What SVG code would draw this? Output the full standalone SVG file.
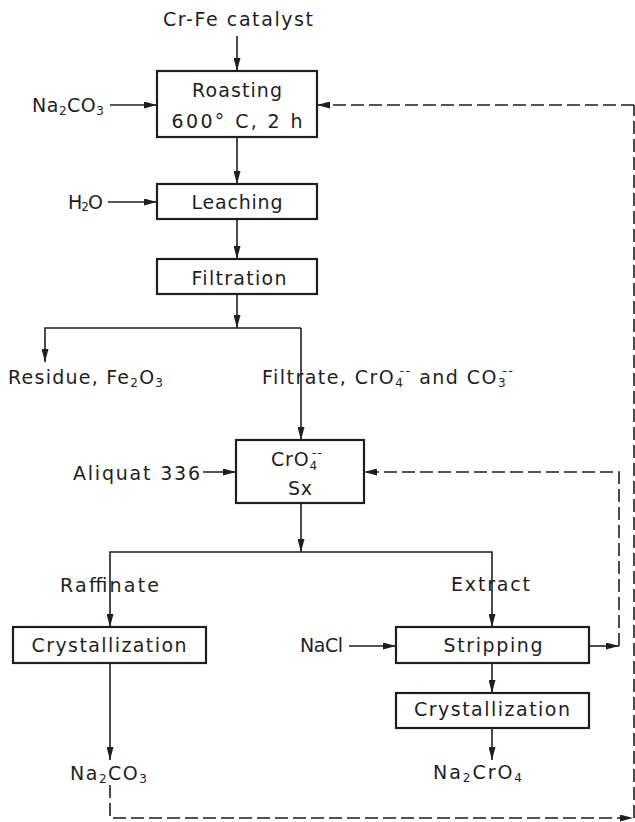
<svg xmlns="http://www.w3.org/2000/svg" width="635" height="822" viewBox="0 0 635 822">
<style>
text{font-family:"DejaVu Sans","Liberation Sans",sans-serif;font-size:19px;fill:#1e1e1e}
.box{fill:none;stroke:#1e1e1e;stroke-width:2.2}
.ln{fill:none;stroke:#1e1e1e;stroke-width:1.6}
.ds{fill:none;stroke:#1e1e1e;stroke-width:1.6;stroke-dasharray:13 5}
.sub{font-size:12px}
.sup{font-size:13px}
</style>
<defs>
<marker id="ah" markerWidth="13" markerHeight="7" refX="13" refY="3.5" orient="auto" markerUnits="userSpaceOnUse"><path d="M0,0 L13,3.5 L0,7 z" fill="#1e1e1e"/></marker>
</defs>
<rect width="635" height="822" fill="#fff"/>
<g id="connectors">
<path class="ln" d="M237,36 V71" marker-end="url(#ah)"/>
<path class="ln" d="M110,105 H157" marker-end="url(#ah)"/>
<path class="ds" d="M634,105 H317" marker-end="url(#ah)"/>
<path class="ln" d="M237,137 V184" marker-end="url(#ah)"/>
<path class="ln" d="M108,202 H157" marker-end="url(#ah)"/>
<path class="ln" d="M237,219 V259" marker-end="url(#ah)"/>
<path class="ln" d="M237,294 V328" marker-end="url(#ah)"/>
<path class="ln" d="M301,328 H45 V362" marker-end="url(#ah)"/>
<path class="ln" d="M301,328 V440" marker-end="url(#ah)"/>
<path class="ln" d="M203,472 H236" marker-end="url(#ah)"/>
<path class="ds" d="M619,646 V472 H364" marker-end="url(#ah)"/>
<path class="ln" d="M301,503 V552" marker-end="url(#ah)"/>
<path class="ln" d="M301,552 H110 V627" marker-end="url(#ah)"/>
<path class="ln" d="M301,552 H492 V627" marker-end="url(#ah)"/>
<path class="ln" d="M349,646 H396" marker-end="url(#ah)"/>
<path class="ln" d="M589,646 H619" marker-end="url(#ah)"/>
<path class="ln" d="M492,663 V693" marker-end="url(#ah)"/>
<path class="ln" d="M492,728 V760" marker-end="url(#ah)"/>
<path class="ln" d="M110,663 V760" marker-end="url(#ah)"/>
<path class="ds" d="M110,785 V818 H633" marker-end="url(#ah)"/>
<path class="ds" d="M634,818 V105"/>
</g>
<g id="roasting">
<rect class="box" x="157" y="71" width="160" height="66"/>
<text x="237" y="97" text-anchor="middle" textLength="90" lengthAdjust="spacing">Roasting</text>
<text x="237" y="128" text-anchor="middle" textLength="131" lengthAdjust="spacing">600° C, 2 h</text>
</g>
<g id="leaching">
<rect class="box" x="157" y="184" width="160" height="35"/>
<text x="237" y="209" text-anchor="middle" textLength="91" lengthAdjust="spacing">Leaching</text>
</g>
<g id="filtration">
<rect class="box" x="157" y="259" width="160" height="35"/>
<text x="239" y="285" text-anchor="middle" textLength="95" lengthAdjust="spacing">Filtration</text>
</g>
<g id="sx">
<rect class="box" x="236" y="440" width="128" height="63"/>
<text x="271" y="466" textLength="51" lengthAdjust="spacing">CrO<tspan class="sub" dy="4">4</tspan><tspan class="sup" dx="-6" dy="-13">--</tspan></text>
<text x="300" y="495" text-anchor="middle" textLength="24" lengthAdjust="spacing">Sx</text>
</g>
<g id="cryst-left">
<rect class="box" x="13" y="627" width="193" height="36"/>
<text x="109" y="652" text-anchor="middle" textLength="155" lengthAdjust="spacing">Crystallization</text>
</g>
<g id="stripping">
<rect class="box" x="396" y="627" width="193" height="36"/>
<text x="493" y="652" text-anchor="middle" textLength="99" lengthAdjust="spacing">Stripping</text>
</g>
<g id="cryst-right">
<rect class="box" x="396" y="693" width="193" height="35"/>
<text x="492" y="716" text-anchor="middle" textLength="156" lengthAdjust="spacing">Crystallization</text>
</g>
<g id="labels">
<text x="163" y="26" textLength="150" lengthAdjust="spacing">Cr-Fe catalyst</text>
<text x="32" y="112" textLength="72" lengthAdjust="spacing">Na<tspan class="sub" dy="3">2</tspan><tspan dy="-3">CO</tspan><tspan class="sub" dy="3">3</tspan></text>
<text x="68" y="209" textLength="35" lengthAdjust="spacing">H<tspan class="sub" dy="2">2</tspan><tspan dy="-2">O</tspan></text>
<text x="8" y="384" textLength="155" lengthAdjust="spacing">Residue,  Fe<tspan class="sub" dy="3">2</tspan><tspan dy="-3">O</tspan><tspan class="sub" dy="3">3</tspan></text>
<text x="262" y="384" textLength="251" lengthAdjust="spacing">Filtrate, CrO<tspan class="sub" dy="3">4</tspan><tspan class="sup" dx="-5" dy="-12">--</tspan><tspan dy="9"> and CO</tspan><tspan class="sub" dy="3">3</tspan><tspan class="sup" dx="-5" dy="-12">--</tspan></text>
<text x="73" y="480" textLength="127" lengthAdjust="spacing">Aliquat 336</text>
<text x="60" y="592" textLength="99" lengthAdjust="spacing">Raffinate</text>
<text x="451" y="591" textLength="79" lengthAdjust="spacing">Extract</text>
<text x="300" y="652" textLength="43" lengthAdjust="spacing">NaCl</text>
<text x="70" y="780" textLength="77" lengthAdjust="spacing">Na<tspan class="sub" dy="3">2</tspan><tspan dy="-3">CO</tspan><tspan class="sub" dy="3">3</tspan></text>
<text x="433" y="779" textLength="89" lengthAdjust="spacing">Na<tspan class="sub" dy="3">2</tspan><tspan dy="-3">CrO</tspan><tspan class="sub" dy="3">4</tspan></text>
</g>
</svg>
